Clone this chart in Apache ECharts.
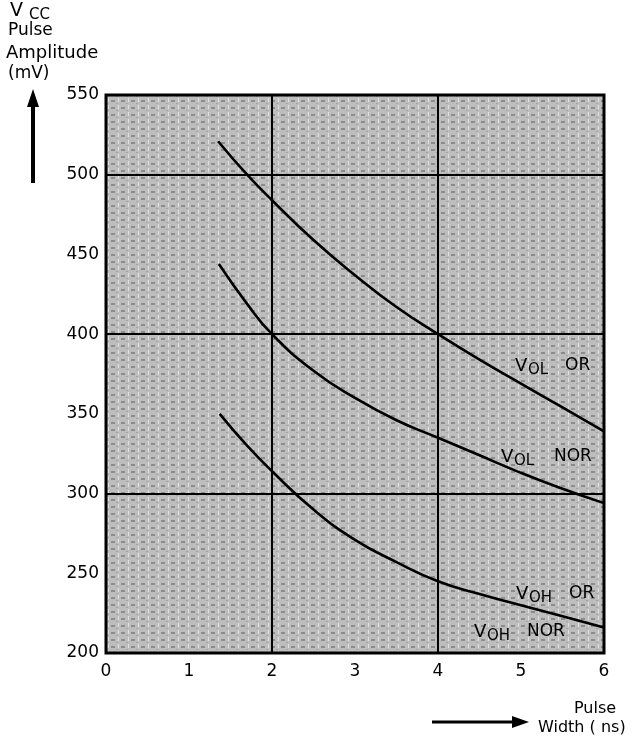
<!DOCTYPE html>
<html>
<head>
<meta charset="utf-8">
<script src="https://cdn.jsdelivr.net/npm/echarts@6/dist/echarts.min.js"></script>
<style>
  html, body { margin: 0; padding: 0; background: #fff; }
  #chart { width: 644px; height: 744px; }
</style>
</head>
<body>
<div id="chart"></div>
<script>
// pulse width (ns) vs. Vcc pulse amplitude (mV)
const volOr = [[1.35, 521], [1.7, 500], [2, 484], [2.5, 459], [3, 437], [3.5, 417], [4, 400], [4.5, 384], [5, 369], [5.5, 354], [6, 339]];
const volNor = [[1.36, 444], [1.7, 419], [2, 400], [2.5, 377], [3, 360], [3.5, 346], [4, 335], [4.5, 324], [5, 313], [5.5, 303], [6, 294]];
const vohOr = [[1.37, 350], [1.7, 330], [2, 314], [2.5, 290], [3, 271], [3.5, 257], [4, 245], [4.5, 237], [5, 230], [5.5, 223], [6, 216]];

const xTicks = [0, 6, 1];     // min, max, step
const yTicks = [200, 550, 50];

const FONT = "DejaVu Sans";

// stippled grey fill of the plot area
function stipple() {
  const c = document.createElement("canvas");
  c.width = 10; c.height = 7;
  const g = c.getContext("2d");
  g.fillStyle = "#bdbdbd"; g.fillRect(0, 0, 10, 7);
  g.fillStyle = "#8c8c8c"; g.fillRect(1, 2, 4, 2);
  g.fillStyle = "#a4a4a4"; g.fillRect(6, 5, 2, 1);
  g.fillStyle = "#e2e2e2"; g.fillRect(8, 0, 1, 4);
  return c;
}

const curve = (data) => ({
  type: "line",
  data: data,
  smooth: 0.5,
  showSymbol: false,
  lineStyle: { color: "#000", width: 2.6 },
  z: 5
});

// text with a subscript: big V, small subscript, then a word
function subLabel(x, y, sub, word, wordDx) {
  return {
    type: "group",
    left: x, top: y,
    children: [
      { type: "text", x: 0, y: 0, style: { text: "V", font: `18px '${FONT}'`, fill: "#000" } },
      { type: "text", x: 13, y: 6, style: { text: sub, font: `15px '${FONT}'`, fill: "#000" } },
      { type: "text", x: wordDx, y: 0, style: { text: word, font: `17px '${FONT}'`, fill: "#000" } }
    ]
  };
}

const chart = echarts.init(document.getElementById("chart"));

chart.setOption({
  animation: false,
  backgroundColor: "#fff",
  grid: {
    left: 106, right: 40, top: 95, bottom: 91,
    show: true,
    backgroundColor: { image: stipple(), repeat: "repeat" },
    borderColor: "#000",
    borderWidth: 3
  },
  xAxis: [
    {
      type: "value", min: xTicks[0], max: xTicks[1], interval: xTicks[2],
      axisLine: { show: false }, axisTick: { show: false }, splitLine: { show: false },
      axisLabel: { color: "#000", fontFamily: FONT, fontSize: 17, margin: 10 }
    },
    {
      type: "value", min: xTicks[0], max: xTicks[1], interval: 2,
      axisLine: { show: false }, axisTick: { show: false }, axisLabel: { show: false },
      splitLine: { show: true, lineStyle: { color: "#000", width: 2 } }
    }
  ],
  yAxis: [
    {
      type: "value", min: yTicks[0], max: yTicks[1], interval: yTicks[2],
      axisLine: { show: false }, axisTick: { show: false }, splitLine: { show: false },
      axisLabel: { color: "#000", fontFamily: FONT, fontSize: 17, margin: 7 }
    },
    {
      type: "value", min: yTicks[0], max: yTicks[1], interval: 100,
      axisLine: { show: false }, axisTick: { show: false }, axisLabel: { show: false },
      splitLine: { show: true, lineStyle: { color: "#000", width: 2 } }
    }
  ],
  series: [curve(volOr), curve(volNor), curve(vohOr)],
  graphic: [
    // y axis title
    { type: "text", left: 10, top: 2, style: { text: "V", font: `19px '${FONT}'`, fill: "#000" } },
    { type: "text", left: 29, top: 8, style: { text: "CC", font: `15px '${FONT}'`, fill: "#000" } },
    { type: "text", left: 8, top: 22, style: { text: "Pulse", font: `17px '${FONT}'`, fill: "#000" } },
    { type: "text", left: 6, top: 44, style: { text: "Amplitude", font: `18px '${FONT}'`, fill: "#000" } },
    { type: "text", left: 8, top: 65, style: { text: "(mV)", font: `17px '${FONT}'`, fill: "#000" } },
    { type: "line", shape: { x1: 33, y1: 183, x2: 33, y2: 104 }, style: { stroke: "#000", lineWidth: 4 } },
    { type: "polygon", shape: { points: [[33, 89], [27, 107], [39, 107]] }, style: { fill: "#000" } },
    // x axis title
    { type: "line", shape: { x1: 432, y1: 722, x2: 516, y2: 722 }, style: { stroke: "#000", lineWidth: 3 } },
    { type: "polygon", shape: { points: [[529, 722], [512, 716], [512, 728]] }, style: { fill: "#000" } },
    { type: "text", left: 574, top: 701, style: { text: "Pulse", font: `16px '${FONT}'`, fill: "#000" } },
    { type: "text", left: 538, top: 720, style: { text: "Width ( ns)", font: `16px '${FONT}'`, fill: "#000" } },
    // curve labels
    subLabel(515, 357, "OL", "OR", 50),
    subLabel(501, 448, "OL", "NOR", 53),
    subLabel(516, 585, "OH", "OR", 53),
    subLabel(474, 623, "OH", "NOR", 53)
  ]
});
</script>
</body>
</html>
